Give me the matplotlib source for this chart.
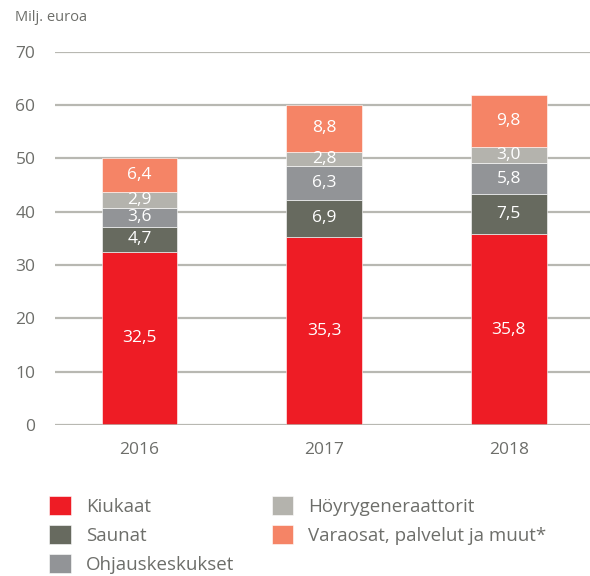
import matplotlib.pyplot as plt
import numpy as np

years = ["2016", "2017", "2018"]
series = ["Kiukaat", "Saunat", "Ohjauskeskukset", "Höyrygeneraattorit",
          "Varaosat, palvelut ja muut*"]
kiukaat = [32.5, 35.3, 35.8]
saunat = [4.7, 6.9, 7.5]
ohjaus = [3.6, 6.3, 5.8]
hoyry = [2.9, 2.8, 3.0]
varaosat = [6.4, 8.8, 9.8]
colors = ["#ee1c25", "#676a5f", "#929497", "#b4b3ad", "#f58466"]

plt.rcParams['font.family'] = ['Open Sans', 'DejaVu Sans']
txt = "#6d6e6a"
grid = "#b8b8b2"

fig = plt.figure(figsize=(5.9, 5.76), dpi=100)
ax = fig.add_axes([0.093, 0.262, 0.907, 0.648])

x = np.arange(len(years))
bottom = np.zeros(len(years))
for vals, name, c in zip([kiukaat, saunat, ohjaus, hoyry, varaosat], series, colors):
    vals = np.array(vals)
    ax.bar(x, vals, 0.41, bottom=bottom, color=c, label=name,
           edgecolor="white", linewidth=0.4, zorder=3)
    for xi, v, b in zip(x, vals, bottom):
        ax.text(xi, b + v / 2, f"{v:.1f}".replace(".", ","), ha="center",
                va="center", color="white", fontsize=12.5, zorder=4)
    bottom += vals

ax.set_xlim(-0.458, 2.44)
ax.set_ylim(0, 70)
ax.set_yticks(range(0, 71, 10))
ax.set_xticks(x)
ax.set_xticklabels(years)
for s in ax.spines.values():
    s.set_visible(False)
ax.yaxis.grid(True, color=grid, linewidth=1.6, zorder=0)
ax.tick_params(axis="both", length=0, labelsize=12.5, colors=txt)
ax.tick_params(axis="y", pad=14)
ax.tick_params(axis="x", pad=12)
ax.axhline(0, color=grid, linewidth=1.8, zorder=5)

fig.text(0.025, 0.97, "Milj. euroa", color=txt, fontsize=10.5, va="center")

fig.legend(loc="upper left", bbox_to_anchor=(0.068, 0.155), ncol=2,
           frameon=False, fontsize=13.5, labelcolor=txt,
           handlelength=1.15, handleheight=1.15, handletextpad=0.8,
           columnspacing=2.0, labelspacing=0.5, borderpad=0)

fig.savefig("out.png", dpi=100)
